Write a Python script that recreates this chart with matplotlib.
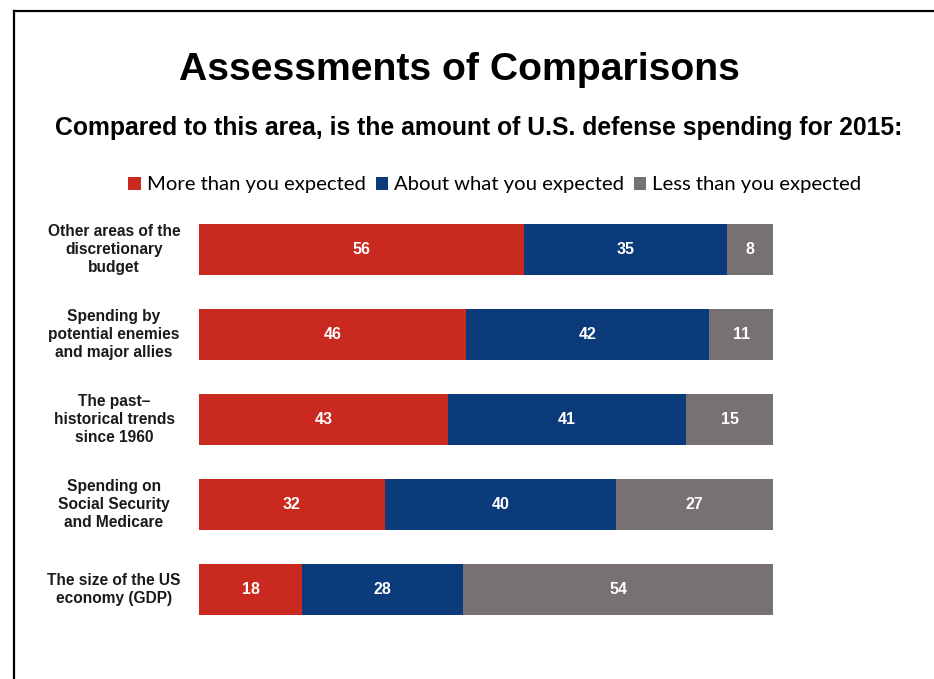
import matplotlib.pyplot as plt
from matplotlib.lines import Line2D
import numpy as np

categories = [
    "Other areas of the\ndiscretionary\nbudget",
    "Spending by\npotential enemies\nand major allies",
    "The past\u2013\nhistorical trends\nsince 1960",
    "Spending on\nSocial Security\nand Medicare",
    "The size of the US\neconomy (GDP)",
]
more = [56, 46, 43, 32, 18]
about = [35, 42, 41, 40, 28]
less = [8, 11, 15, 27, 54]
series_names = ["More than you expected", "About what you expected", "Less than you expected"]
colors = ["#C9291E", "#0B3B7A", "#777171"]

W, H = 934, 679
fig = plt.figure(figsize=(W / 100, H / 100), dpi=100)
fig.patch.set_facecolor("white")

ax = fig.add_axes([199 / W, 1 - 632 / H, 574 / W, 425 / H])

values = np.array([more, about, less], dtype=float)
totals = values.sum(axis=0)
shares = values / totals * 100
y = np.arange(len(categories))
left = np.zeros(len(categories))
for i in range(3):
    bars = ax.barh(y, shares[i], left=left, height=0.61, color=colors[i],
                   label=series_names[i])
    for b, v in zip(bars, values[i]):
        ax.text(b.get_x() + b.get_width() / 2, b.get_y() + b.get_height() / 2,
                "%d" % v, ha="center", va="center", color="white",
                fontsize=11.5, fontweight="bold", family="Liberation Sans")
    left += shares[i]

ax.set_xlim(0, 100)
ax.set_ylim(len(categories) - 0.5, -0.5)
ax.axis("off")

for yi, cat in zip(y, categories):
    ax.annotate(cat, xy=(0, yi), xycoords="data", xytext=(-85, 0),
                textcoords="offset pixels", ha="center", va="center",
                multialignment="center", fontsize=11.2, fontweight="bold",
                family="Liberation Sans", linespacing=1.22, color="#1a1a1a")

fig.text(459 / W, 1 - 70 / H, "Assessments of Comparisons", ha="center",
         va="center", fontsize=28.2, fontweight="bold", family="Liberation Sans")
fig.text(479 / W, 1 - 128 / H,
         "Compared to this area, is the amount of U.S. defense spending for 2015:",
         ha="center", va="center", fontsize=17.8, fontweight="bold",
         family="Liberation Sans")

handles, labels = ax.get_legend_handles_labels()
fig.legend(handles, labels, loc="center", bbox_to_anchor=(495 / W, 1 - 185 / H),
           ncol=3, frameon=False, handlelength=0.6, handleheight=0.6,
           handletextpad=0.3, columnspacing=0.5,
           prop={"family": "Lato", "size": 14.6})

# frame lines on the left and top edges
fig.add_artist(Line2D([13.5 / W, 13.5 / W], [0, 1 - 10.5 / H], color="black", lw=1.6))
fig.add_artist(Line2D([13.5 / W, 1], [1 - 10.5 / H, 1 - 10.5 / H], color="black", lw=1.6))

fig.savefig("out.png", dpi=100)
